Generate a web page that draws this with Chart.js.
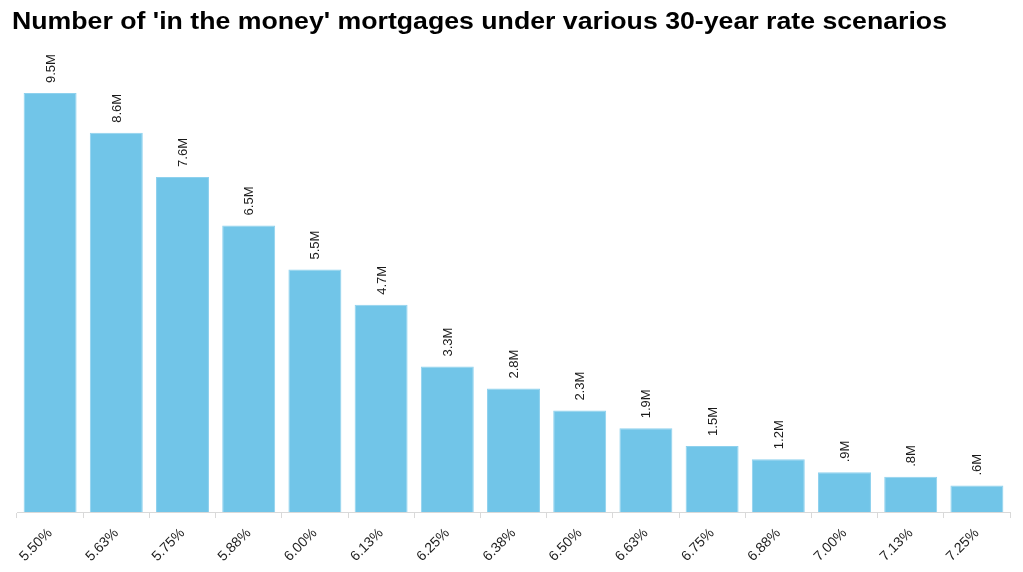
<!DOCTYPE html>
<html>
<head>
<meta charset="utf-8">
<script src="https://cdn.jsdelivr.net/npm/chart.js@4"></script>
<style>
  html, body { margin: 0; padding: 0; background: #fff; }
  #wrap { position: relative; width: 1023px; height: 572px; overflow: hidden; }
  #title { position: absolute; left: 12px; top: 9px; font: bold 24px "Liberation Sans", Arial, sans-serif; line-height: 24px; color: #000; white-space: nowrap; margin: 0; transform-origin: 0 0; }
  canvas { position: absolute; left: 0; top: 0; }
</style>
</head>
<body>
<div id="wrap">
  <canvas id="c" width="1023" height="572"></canvas>
  <div id="title">Number of 'in the money' mortgages under various 30-year rate scenarios</div>
</div>
<script>
const rateLabels = ['5.50%','5.63%','5.75%','5.88%','6.00%','6.13%','6.25%','6.38%','6.50%','6.63%','6.75%','6.88%','7.00%','7.13%','7.25%'];
const mortgagesMillions = [9.5, 8.6, 7.6, 6.5, 5.5, 4.7, 3.3, 2.8, 2.3, 1.9, 1.5, 1.2, 0.9, 0.8, 0.6];

// stretch title to the reference width
(function () {
  const t = document.getElementById('title');
  const w = t.getBoundingClientRect().width;
  t.style.transform = 'scaleX(' + (935 / w) + ')';
})();

function fmt(v) {
  let s = v.toFixed(1);
  if (s.startsWith('0')) s = s.slice(1);
  return s + 'M';
}

const valueLabels = {
  id: 'valueLabels',
  afterDatasetsDraw(chart) {
    const ctx = chart.ctx;
    const meta = chart.getDatasetMeta(0);
    ctx.save();
    ctx.font = '13px "Liberation Sans", Arial, sans-serif';
    ctx.fillStyle = '#1a1a1a';
    ctx.textAlign = 'left';
    ctx.textBaseline = 'middle';
    meta.data.forEach((bar, i) => {
      ctx.save();
      ctx.translate(bar.x + 1, bar.y - 10);
      ctx.rotate(-Math.PI / 2);
      ctx.fillText(fmt(mortgagesMillions[i]), 0, 0);
      ctx.restore();
    });
    ctx.restore();
  }
};

new Chart(document.getElementById('c'), {
  type: 'bar',
  data: {
    labels: rateLabels,
    datasets: [{
      data: mortgagesMillions,
      backgroundColor: '#71C5E8',
      borderColor: '#8ED1EE',
      borderWidth: 1,
      barPercentage: 0.8,
      categoryPercentage: 1.0
    }]
  },
  options: {
    responsive: false,
    devicePixelRatio: 1,
    animation: false,
    layout: { padding: { top: 49, left: 17, right: 13, bottom: 0 } },
    plugins: {
      legend: { display: false },
      title: { display: false },
      tooltip: { enabled: false }
    },
    scales: {
      y: { display: false, min: 0, max: 10.5 },
      x: {
        offset: true,
        border: { display: true, color: '#d9d9d9', width: 1 },
        grid: { display: true, offset: true, drawOnChartArea: false, drawTicks: true, tickLength: 6, color: '#d9d9d9' },
        ticks: {
          color: '#222',
          font: { size: 14, family: '"Liberation Sans", Arial, sans-serif' },
          minRotation: 45,
          maxRotation: 45,
          padding: 7,
          autoSkip: false
        }
      }
    }
  },
  plugins: [valueLabels]
});
</script>
</body>
</html>
